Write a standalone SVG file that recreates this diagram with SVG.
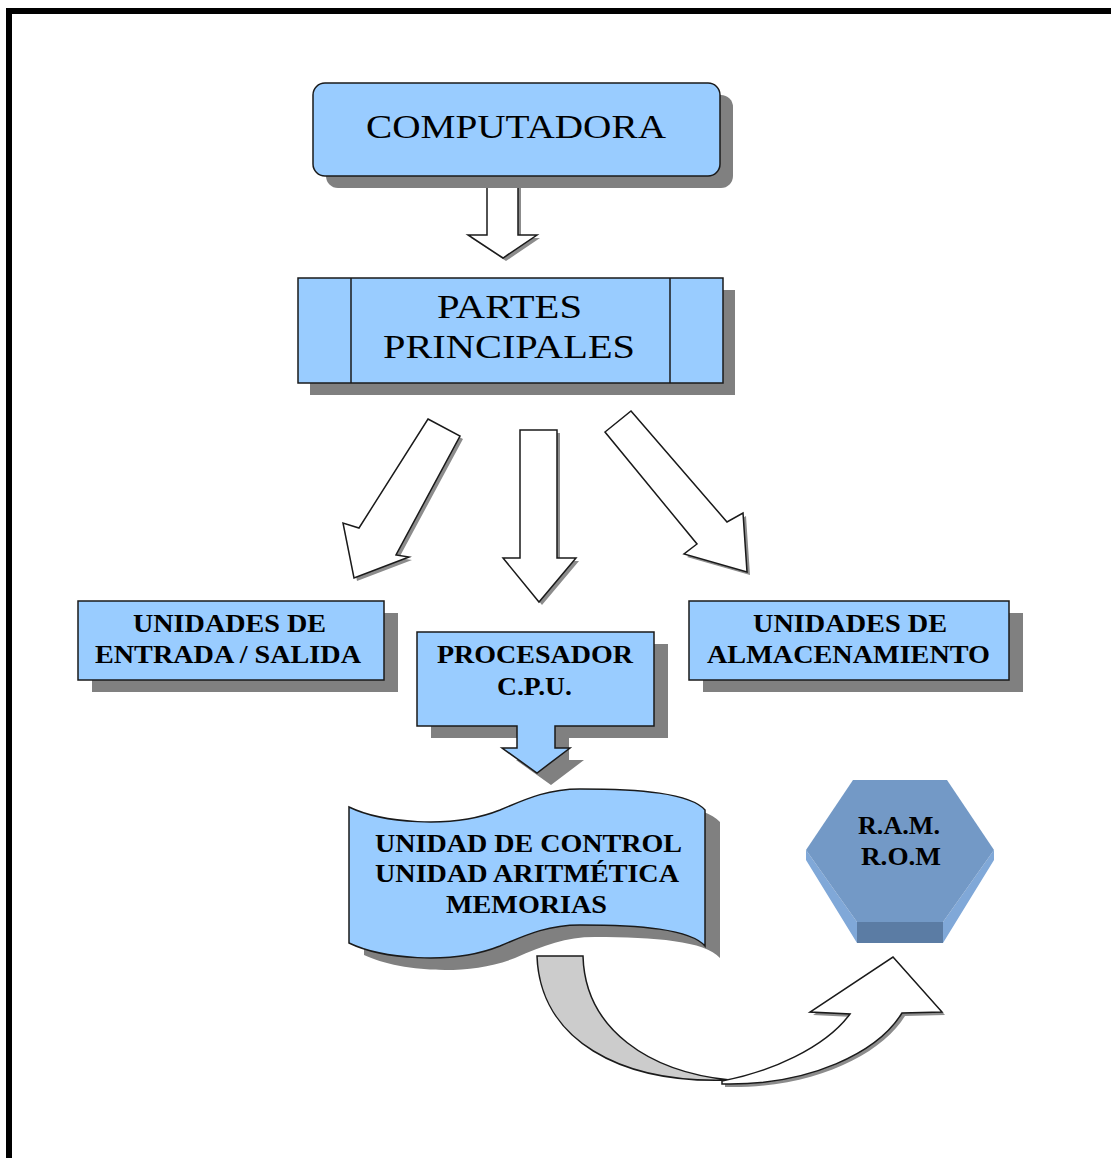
<svg xmlns="http://www.w3.org/2000/svg" width="1111" height="1158" viewBox="0 0 1111 1158">
  <style>
    .box{fill:#99ccff;stroke:#1a1a1a;stroke-width:1.5}
    .shadow{fill:#808080}
    .arrow{fill:#ffffff;stroke:#1a1a1a;stroke-width:1.5;stroke-linejoin:miter}
    .ashadow{fill:#8c8c8c}
    text{font-family:"Liberation Serif","Times New Roman",serif;fill:#000}
    .t1{font-size:33px}
    .t2{font-size:26px;font-weight:bold}
  </style>
  <defs>
    <path id="arrow-down-1" d="M487,178 H518 V235 H537 L503,258 L468,235 H487 Z"/>
    <path id="arrow-left" d="M428,419 L460,436 L396,555 L409,557 L354,578 L343,523 L359,528 Z"/>
    <path id="arrow-mid" d="M520,430 H557 V558 H576 L539,602 L503,558 H520 Z"/>
    <path id="arrow-right" d="M631,411 L727,522 L743,513 L747,572 L684,554 L697,544 L605,432 Z"/>
    <path id="cpu-shape" d="M417,632 H654 V726 H555 V748 H570 L537,773 L502,748 H517 V726 H417 Z"/>
    <path id="wave-shape" d="M349,807 C380,822 450,830 500,810 C530,797 550,789 580,789 C640,789 690,793 705,810 L705,946 C690,929 640,925 580,925 C550,925 530,933 500,946 C450,966 380,958 349,943 Z"/>
    <path id="turn-front" d="M722,1081 C770,1072 825,1048 850,1014 L810,1012 L893,957 L942,1012 L902,1013 C878,1052 810,1086 722,1084 Z"/>
  </defs>

  <rect width="1111" height="1158" fill="#ffffff"/>
  <!-- page frame -->
  <path d="M9,1158 V11 H1111" fill="none" stroke="#000" stroke-width="6"/>

  <!-- connectors -->
  <g id="connectors">
    <use href="#arrow-down-1" class="ashadow" transform="translate(3,3)"/>
    <use href="#arrow-down-1" class="arrow"/>
    <use href="#arrow-left" class="ashadow" transform="translate(3,3)"/>
    <use href="#arrow-left" class="arrow"/>
    <use href="#arrow-mid" class="ashadow" transform="translate(3,3)"/>
    <use href="#arrow-mid" class="arrow"/>
    <use href="#arrow-right" class="ashadow" transform="translate(3,3)"/>
    <use href="#arrow-right" class="arrow"/>
    <!-- U-turn arrow: back face then front face -->
    <path d="M537,956 L583,956 C585,1030 650,1072 730,1080 C620,1084 540,1040 537,956 Z" fill="#cccccc" stroke="#1a1a1a" stroke-width="1.5"/>
    <use href="#turn-front" class="ashadow" transform="translate(3,3)"/>
    <use href="#turn-front" class="arrow"/>
  </g>

  <g id="node-computadora">
    <rect class="shadow" x="326" y="95" width="407" height="93" rx="12"/>
    <rect class="box" x="313" y="83" width="407" height="93" rx="12"/>
    <text class="t1" x="366" y="138" textLength="300" lengthAdjust="spacingAndGlyphs">COMPUTADORA</text>
  </g>

  <g id="node-partes">
    <rect class="shadow" x="310" y="290" width="425" height="105"/>
    <rect class="box" x="298" y="278" width="425" height="105"/>
    <line x1="351" y1="278" x2="351" y2="383" stroke="#1a1a1a" stroke-width="1.5"/>
    <line x1="670" y1="278" x2="670" y2="383" stroke="#1a1a1a" stroke-width="1.5"/>
    <text class="t1" x="437" y="318" textLength="145" lengthAdjust="spacingAndGlyphs">PARTES</text>
    <text class="t1" x="383" y="358" textLength="252" lengthAdjust="spacingAndGlyphs">PRINCIPALES</text>
  </g>

  <g id="node-entrada-salida">
    <rect class="shadow" x="92" y="613" width="306" height="79"/>
    <rect class="box" x="78" y="601" width="306" height="79"/>
    <text class="t2" x="133" y="632" textLength="193" lengthAdjust="spacingAndGlyphs">UNIDADES DE</text>
    <text class="t2" x="95" y="663" textLength="266" lengthAdjust="spacingAndGlyphs">ENTRADA / SALIDA</text>
  </g>

  <g id="node-procesador">
    <use href="#cpu-shape" class="shadow" transform="translate(14,12)"/>
    <use href="#cpu-shape" class="box"/>
    <text class="t2" x="437" y="663" textLength="196" lengthAdjust="spacingAndGlyphs">PROCESADOR</text>
    <text class="t2" x="497" y="695" textLength="75" lengthAdjust="spacingAndGlyphs">C.P.U.</text>
  </g>

  <g id="node-almacenamiento">
    <rect class="shadow" x="703" y="613" width="320" height="79"/>
    <rect class="box" x="689" y="601" width="320" height="79"/>
    <text class="t2" x="753" y="632" textLength="194" lengthAdjust="spacingAndGlyphs">UNIDADES DE</text>
    <text class="t2" x="707" y="663" textLength="283" lengthAdjust="spacingAndGlyphs">ALMACENAMIENTO</text>
  </g>

  <g id="node-componentes">
    <use href="#wave-shape" class="shadow" transform="translate(15,12)"/>
    <use href="#wave-shape" class="box"/>
    <text class="t2" x="375" y="852" textLength="307" lengthAdjust="spacingAndGlyphs">UNIDAD DE CONTROL</text>
    <text class="t2" x="375" y="882" textLength="304" lengthAdjust="spacingAndGlyphs">UNIDAD ARITMÉTICA</text>
    <text class="t2" x="446" y="913" textLength="161" lengthAdjust="spacingAndGlyphs">MEMORIAS</text>
  </g>

  <g id="node-memoria">
    <!-- extruded hexagon: side faces, bottom face, front face -->
    <polygon points="806,850 857,922 943,922 994,850 994,860 943,943 857,943 806,860" fill="#80a8d8"/>
    <polygon points="857,922 943,922 943,943 857,943" fill="#5b7ca4"/>
    <polygon points="853,780 947,780 994,850 943,922 857,922 806,850" fill="#7399c6"/>
    <text class="t2" x="858" y="834" textLength="82" lengthAdjust="spacingAndGlyphs">R.A.M.</text>
    <text class="t2" x="861" y="865" textLength="80" lengthAdjust="spacingAndGlyphs">R.O.M</text>
  </g>
</svg>
